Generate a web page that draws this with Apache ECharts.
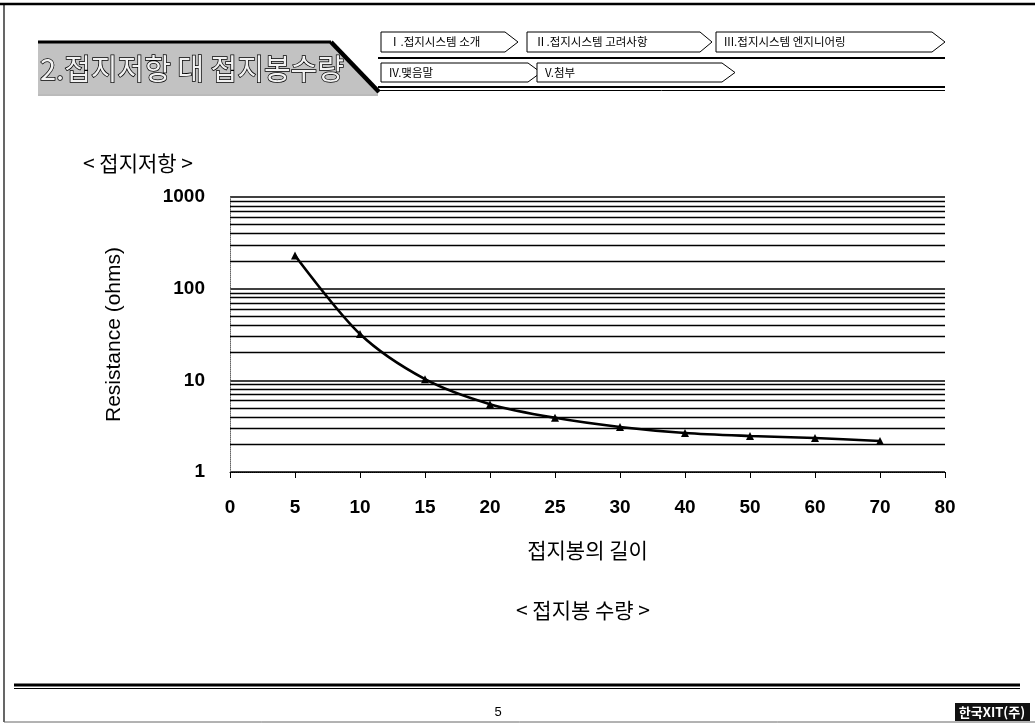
<!DOCTYPE html>
<html><head><meta charset="utf-8">
<script src="https://cdn.jsdelivr.net/npm/echarts@6/dist/echarts.min.js"></script>
<style>html,body{margin:0;padding:0;background:#fff}#c{width:1035px;height:725px}</style>
</head><body><div id="c"></div>
<script>
var categories = ['0','5','10','15','20','25','30','40','50','60','70','80'];
var resistance = [null, 230, 32, 10.3, 5.5, 3.9, 3.1, 2.66, 2.47, 2.35, 2.18, null];
var minorGridValues = [2,3,4,5,6,7,8,9,20,30,40,50,60,70,80,90,200,300,400,500,600,700,800,900];
var navRow1 = ['Ⅰ.접지시스템 소개','Ⅱ.접지시스템 고려사항','III.접지시스템 엔지니어링'];
var navRow2 = ['IV.맺음말','V.첨부'];

var KR = '"Noto Sans CJK KR", "Noto Sans", sans-serif';
var AR = '"Liberation Sans", Arial, sans-serif';

function navBox(x0, x1, tip, y0, y1, label){
  var ym = (y0 + y1) / 2;
  return [
    {type:'polygon', shape:{points:[[x0,y0],[x1,y0],[tip,ym],[x1,y1],[x0,y1]]},
     style:{fill:'#fff', stroke:'#000', lineWidth:1}},
    {type:'text', x:x0+8, y:ym, style:{text:label, font:'11.5px '+KR, fill:'#000', verticalAlign:'middle'}}
  ];
}

var graphics = [];
// frame
graphics.push({type:'line', shape:{x1:0,y1:4,x2:1035,y2:4}, style:{stroke:'#000', lineWidth:2.5}});
graphics.push({type:'line', shape:{x1:4,y1:4,x2:4,y2:722}, style:{stroke:'#000', lineWidth:1.2}});
graphics.push({type:'line', shape:{x1:4,y1:722,x2:1035,y2:722}, style:{stroke:'#666', lineWidth:1}});
// title banner
graphics.push({type:'polygon', shape:{points:[[38,43],[331,43],[378,94],[38,94]]}, style:{fill:'#c2c2c2'}});
graphics.push({type:'line', shape:{x1:38,y1:42,x2:331,y2:42}, style:{stroke:'#000', lineWidth:3}});
graphics.push({type:'line', shape:{x1:38,y1:95,x2:378,y2:95}, style:{stroke:'#777', lineWidth:1}});
graphics.push({type:'line', shape:{x1:331,y1:42,x2:379,y2:92}, style:{stroke:'#000', lineWidth:4.5}});
graphics.push({type:'text', x:40, y:69, style:{text:'2.접지저항 대 접지봉수량', font:'29px '+KR, fill:'#f2f2f2', stroke:'#000', lineWidth:1.5, verticalAlign:'middle'}});
// nav
graphics = graphics.concat(navBox(381, 505, 518, 32, 52, navRow1[0]));
graphics = graphics.concat(navBox(527, 700, 712, 32, 52, navRow1[1]));
graphics = graphics.concat(navBox(716, 932, 945, 32, 52, navRow1[2]));
graphics.push({type:'line', shape:{x1:378,y1:58,x2:945,y2:58}, style:{stroke:'#000', lineWidth:2}});
graphics = graphics.concat(navBox(381, 528, 541, 63, 82, navRow2[0]));
graphics = graphics.concat(navBox(537, 722, 735, 63, 82, navRow2[1]));
graphics.push({type:'line', shape:{x1:378,y1:87,x2:945,y2:87}, style:{stroke:'#000', lineWidth:2}});
graphics.push({type:'line', shape:{x1:378,y1:90.5,x2:945,y2:90.5}, style:{stroke:'#000', lineWidth:1}});
// chart labels
graphics.push({type:'text', x:83, y:163, style:{text:'< 접지저항 >', font:'21px '+KR, fill:'#000', verticalAlign:'middle'}});
graphics.push({type:'text', x:583, y:610, style:{text:'< 접지봉 수량 >', font:'21px '+KR, fill:'#000', align:'center', verticalAlign:'middle'}});
// footer
graphics.push({type:'line', shape:{x1:14,y1:685,x2:1020,y2:685}, style:{stroke:'#000', lineWidth:3}});
graphics.push({type:'line', shape:{x1:14,y1:688.5,x2:1020,y2:688.5}, style:{stroke:'#000', lineWidth:1}});
graphics.push({type:'text', x:498, y:712, style:{text:'5', font:'13px '+AR, fill:'#000', align:'center', verticalAlign:'middle'}});
graphics.push({type:'rect', shape:{x:955, y:703, width:75, height:18}, style:{fill:'#111'}});
graphics.push({type:'text', x:992, y:712.5, style:{text:'한국XIT(주)', font:'bold 13px '+KR, fill:'#fff', align:'center', verticalAlign:'middle'}});

var chart = echarts.init(document.getElementById('c'));
chart.setOption({
  animation: false,
  backgroundColor: '#fff',
  grid: {left:230, right:90, top:197, bottom:253},
  xAxis: {
    type:'category', data:categories, boundaryGap:false,
    name:'접지봉의 길이', nameLocation:'middle', nameGap:68,
    nameTextStyle:{fontFamily:KR, fontSize:21, color:'#000'},
    axisLine:{show:true, lineStyle:{color:'#000', width:1, type:'dotted'}},
    axisTick:{show:true, length:6, lineStyle:{color:'#000', width:1}},
    axisLabel:{fontFamily:AR, fontWeight:'bold', fontSize:19, color:'#000', margin:26, interval:0},
    splitLine:{show:false}
  },
  yAxis: {
    type:'log', logBase:10, min:1, max:1000,
    name:'Resistance (ohms)', nameLocation:'middle', nameGap:105, nameRotate:90,
    nameTextStyle:{fontFamily:AR, fontSize:21, color:'#000'},
    axisLine:{show:true, lineStyle:{color:'#666', width:1, type:'dotted'}},
    axisTick:{show:false},
    axisLabel:{fontFamily:AR, fontWeight:'bold', fontSize:19, color:'#000', margin:25,
      formatter:function(v){return String(Math.round(v));}},
    splitLine:{show:true, lineStyle:{color:'#000', width:1.6}}
  },
  series: [{
    type:'line', data:resistance, smooth:0.3, connectNulls:false,
    symbol:'triangle', symbolSize:8,
    lineStyle:{color:'#000', width:2.6},
    itemStyle:{color:'#000'},
    markLine:{
      silent:true, symbol:'none', label:{show:false},
      lineStyle:{color:'#000', width:1.3, type:'solid'},
      emphasis:{disabled:true},
      data: minorGridValues.map(function(v){return {yAxis:v};})
    },
    z:3
  }],
  graphic: graphics
});
</script>
</body></html>
